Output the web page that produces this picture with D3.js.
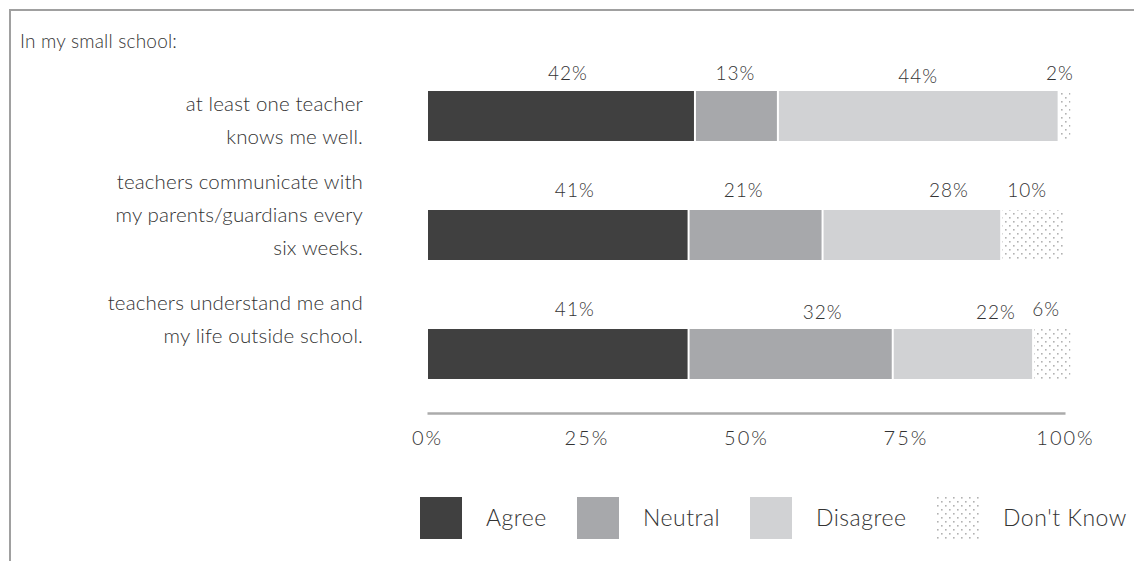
<!DOCTYPE html>
<html>
<head>
<meta charset="utf-8">
<script src="https://cdn.jsdelivr.net/npm/d3@7"></script>
<style>
  html, body { margin: 0; padding: 0; background: #fff; }
  svg { display: block; font-family: Lato, "Open Sans", sans-serif; font-weight: 300; }
</style>
</head>
<body>
<svg id="chart" width="1134" height="561"></svg>
<script>
// Survey statements (each split into display lines)
const statements = [
  ["at least one teacher", "knows me well."],
  ["teachers communicate with", "my parents/guardians every", "six weeks."],
  ["teachers understand me and", "my life outside school."]
];
const responses = ["Agree", "Neutral", "Disagree", "Don't Know"];

// Percent of students giving each response
const agree    = [42, 41, 41];
const neutral  = [13, 21, 32];
const disagree = [44, 28, 22];
const dontKnow = [2, 10, 6];

const tickValues = [0, 25, 50, 75, 100];
const tickLabels = ["0%", "25%", "50%", "75%", "100%"];

const title = "In my small school:";

// ---- layout ----
const svg = d3.select("#chart");
const W = 1134, H = 561;
const textColor = "#333333";
const fills = ["#404040", "#a7a8ab", "#d1d2d4", "url(#dots)"];

// dotted fill used for "Don't Know"
const defs = svg.append("defs");
const pat = defs.append("pattern")
  .attr("id", "dots").attr("patternUnits", "userSpaceOnUse")
  .attr("width", 8).attr("height", 8);
pat.append("rect").attr("width", 8).attr("height", 8).attr("fill", "#fff");
pat.append("rect").attr("x", 1).attr("y", 1).attr("width", 1.6).attr("height", 1.6).attr("fill", "#b2b2b2");
pat.append("rect").attr("x", 5).attr("y", 5).attr("width", 1.6).attr("height", 1.6).attr("fill", "#b2b2b2");

// frame
svg.append("path")
  .attr("d", `M10,${H} V10 H${W}`)
  .attr("fill", "none").attr("stroke", "#a0a0a0").attr("stroke-width", 2);

svg.append("text")
  .attr("x", 20).attr("y", 48)
  .attr("font-size", 19).attr("letter-spacing", 0.2).attr("fill", textColor)
  .text(title);

const x = d3.scaleLinear().domain([0, 100]).range([427, 1065]);
const y = d3.scaleBand().domain(d3.range(statements.length)).range([91, 379]).paddingInner(0.58).paddingOuter(0);

const series = [agree, neutral, disagree, dontKnow];
const rows = statements.map((s, i) => {
  let acc = 0;
  return series.map((arr, k) => {
    const seg = { row: i, key: k, v: arr[i], x0: acc, x1: acc + arr[i] };
    acc += arr[i];
    return seg;
  });
});

// small hand adjustments for value-label placement [dx, dy]
const labelNudge = [
  [[7, 0], [-1, 0], [0, 3], [-5, 0]],
  [[17, -2], [-12, -2], [37, -2], [-6, -2]],
  [[17, -2], [32, 1], [33, 1], [-6, -2]]
];
// vertical offset of the statement's first line from the bar's center
const stmtOffset = [-12, -53, -51];

const g = svg.append("g");
rows.forEach((segs, i) => {
  const top = y(i), bh = y.bandwidth();
  g.selectAll(null).data(segs).enter().append("rect")
    .attr("x", d => x(d.x0) + 1)
    .attr("y", top)
    .attr("width", d => Math.max(0, x(d.x1) - x(d.x0) - 2))
    .attr("height", bh)
    .attr("fill", d => fills[d.key]);

  g.selectAll(null).data(segs).enter().append("text")
    .attr("x", d => (x(d.x0) + x(d.x1)) / 2 + labelNudge[i][d.key][0])
    .attr("y", d => top - 11 + labelNudge[i][d.key][1])
    .attr("text-anchor", "middle")
    .attr("font-size", 19).attr("letter-spacing", 1).attr("fill", textColor)
    .text(d => d.v + "%");

  const cy = top + bh / 2 + stmtOffset[i];
  const t = g.append("text")
    .attr("text-anchor", "end").attr("font-size", 20.5).attr("letter-spacing", 0.15)
    .attr("fill", textColor);
  statements[i].forEach((line, j) => {
    t.append("tspan").attr("x", 363).attr("y", cy + 7 + j * 33).text(line);
  });
});

// axis
const axis = d3.axisBottom(x).tickValues(tickValues)
  .tickFormat((d, i) => tickLabels[i]).tickSize(0).tickPadding(18);
const ax = svg.append("g").attr("transform", "translate(0,413)").call(axis);
ax.select(".domain").attr("stroke", "#ababab").attr("stroke-width", 2.5);
ax.selectAll("text").attr("font-size", 20).attr("letter-spacing", 2).attr("fill", textColor)
  .attr("font-family", "Lato, sans-serif").attr("font-weight", 300);

// legend
const legendX = [420, 577, 750, 937];
const leg = svg.append("g");
responses.forEach((r, k) => {
  leg.append("rect").attr("x", legendX[k]).attr("y", 497).attr("width", 42).attr("height", 42)
    .attr("fill", fills[k]);
  leg.append("text").attr("x", legendX[k] + 66).attr("y", 526)
    .attr("font-size", 23).attr("letter-spacing", 0.5).attr("fill", textColor).text(r);
});
</script>
</body>
</html>
